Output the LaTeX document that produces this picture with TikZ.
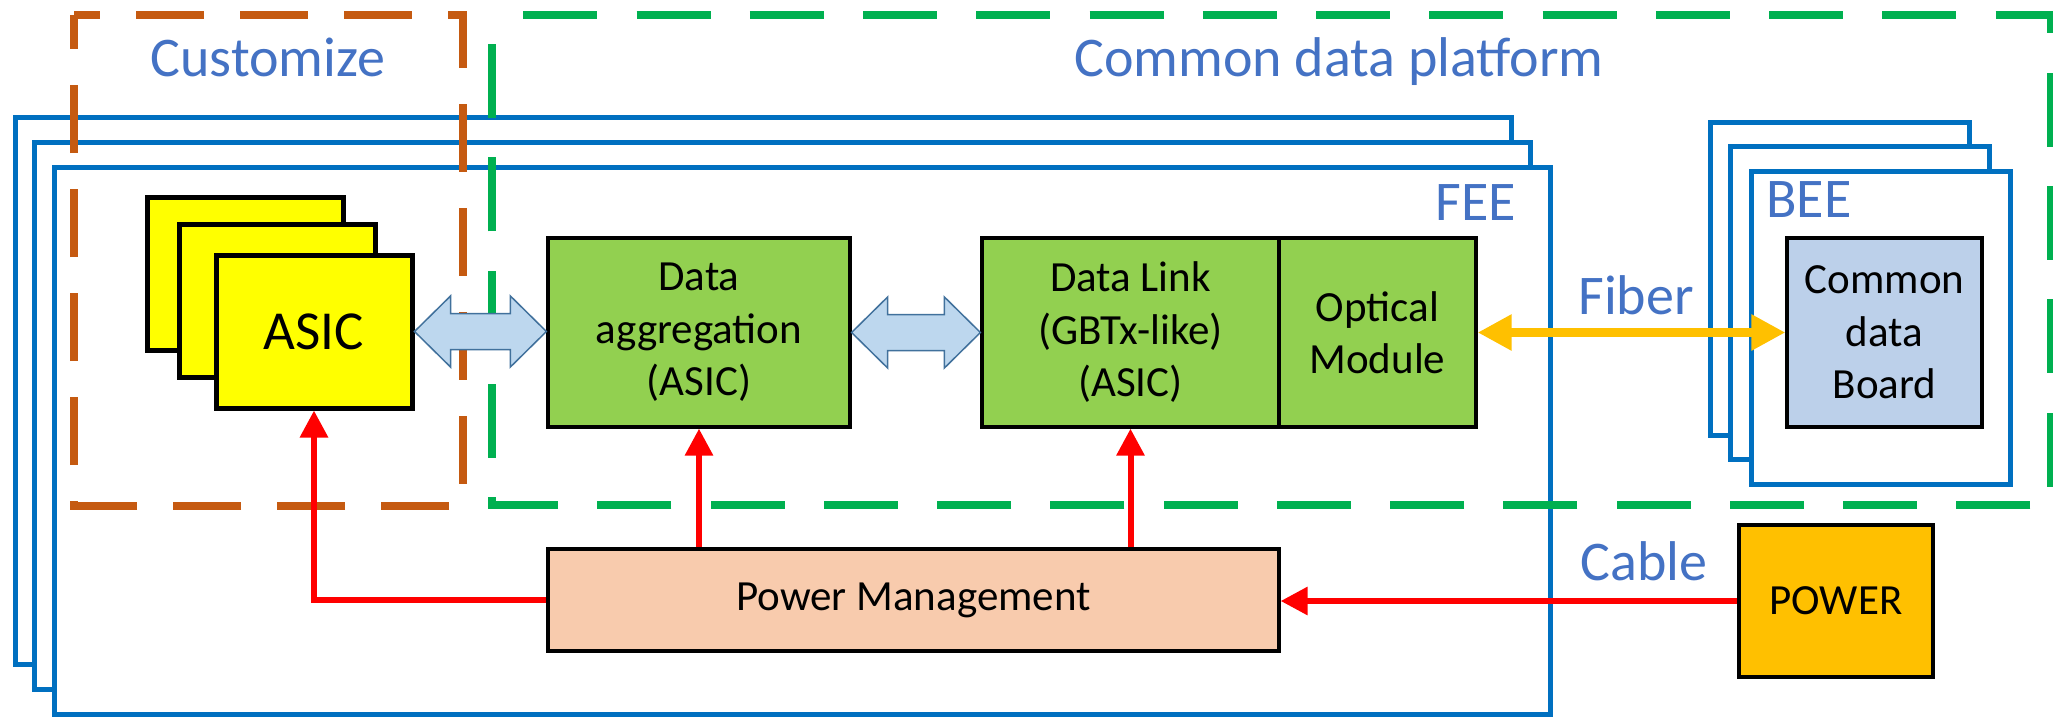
\documentclass[tikz,border=0pt]{standalone}
\usepackage{fontspec}
\setmainfont{Carlito}
\usetikzlibrary{arrows.meta,calc}

\definecolor{feeblue}{HTML}{0070C0}
\definecolor{labelblue}{HTML}{4472C4}
\definecolor{custorange}{HTML}{C55A11}
\definecolor{platgreen}{HTML}{00B050}
\definecolor{chipyellow}{HTML}{FFFF00}
\definecolor{blockgreen}{HTML}{92D050}
\definecolor{pmpeach}{HTML}{F8CBAD}
\definecolor{boardblue}{HTML}{BCD0EA}
\definecolor{powerorange}{HTML}{FFC000}
\definecolor{arrowfill}{HTML}{BDD7EE}
\definecolor{arrowedge}{HTML}{41719C}
\definecolor{powerred}{HTML}{FF0000}

\tikzset{
  panel/.style={draw=feeblue, line width=5pt, fill=white, inner sep=0pt,
    minimum width=1496pt, minimum height=547.5pt},
  beepanel/.style={draw=feeblue, line width=5pt, fill=white, inner sep=0pt,
    minimum width=259pt, minimum height=313pt},
  chip/.style={draw=black, line width=5pt, fill=chipyellow, inner sep=0pt,
    minimum width=196pt, minimum height=153pt, font=\fontsize{55}{66}\selectfont},
  block/.style={draw=black, line width=3.2pt, inner sep=0pt, align=center,
    font=\fontsize{43}{52.5}\selectfont},
  tag/.style={text=labelblue, inner sep=0pt, font=\fontsize{56}{67}\selectfont},
  zone/.style={line width=7.5pt},
  power/.style={draw=powerred, line width=6pt, -{Triangle[length=27pt,width=27pt]}},
  fiber/.style={draw=powerorange, line width=8.5pt,
    {Triangle[length=34pt,width=34pt]}-{Triangle[length=34pt,width=34pt]}},
  fat/.style={draw=arrowedge, line width=1.5pt, fill=arrowfill, line join=miter},
}

% wide two-headed block arrow between the east side of #1 and the west side of #2
\newcommand\fatlink[2]{%
  \draw[fat] let \p1=(#1), \p2=(#2) in
    (\x1,\y1) -- (\x1+36pt,\y1+35.5pt) -- (\x1+36pt,\y1+18pt)
    -- (\x2-36pt,\y1+18pt) -- (\x2-36pt,\y1+35.5pt) -- (\x2,\y1)
    -- (\x2-36pt,\y1-35.5pt) -- (\x2-36pt,\y1-18pt)
    -- (\x1+36pt,\y1-18pt) -- (\x1+36pt,\y1-35.5pt) -- cycle;}

\begin{document}
\begin{tikzpicture}[x=1pt,y=-1pt]
\useasboundingbox[fill=white] (0,0) rectangle (2053,717);

% stacked front-end boards
\node[panel] (fee1) at (763,390.75) {};
\node[panel] (fee2) at (782.5,415.75) {};
\node[panel] (fee3) at (802,440.75) {};

% stacked back-end boards
\node[beepanel] (bee1) at (1839.5,278.5) {};
\node[beepanel] (bee2) at (1860,303) {};
\node[beepanel] (bee3) at (1880.5,327.5) {};

% customised and common regions
\draw[zone, custorange, dash pattern=on 68pt off 36pt, dash phase=42pt]
  (74,15) -- (463,15) -- (463,506) -- (74,506) -- cycle;
\draw[zone, platgreen, dash pattern=on 74pt off 39.25pt, dash phase=82pt]
  (492,15) -- (2051,15) -- (2051,505) -- (492,505) -- cycle;

% region and board labels
\node[tag, anchor=base] (custlbl) at (268,76.5) {Customize};
\node[tag, anchor=base] (cdplbl) at (1339,77) {Common data platform};
\node[tag, anchor=base east] (feelbl) at (1516,220) {FEE};
\node[tag, anchor=base west] (beelbl) at (1766,217) {BEE};
\node[tag, anchor=base] (fiberlbl) at (1636,314.5) {Fiber};
\node[tag, anchor=base] (cablelbl) at (1644,580) {Cable};

% front-end chips
\node[chip] (a1) at (245.5,274) {};
\node[chip] (a2) at (277,301) {};
\node[chip] (a3) at (314,331.5) {ASIC};

% processing blocks
\node[block, fill=blockgreen, minimum width=302pt, minimum height=189pt]
  (agg) at (699,332.5) {Data\\aggregation\\(ASIC)};
\node[block, fill=blockgreen, minimum width=297pt, minimum height=189pt]
  (link) at (1130.5,332.5) {Data Link\\(GBTx-like)\\(ASIC)};
\node[block, fill=blockgreen, minimum width=197pt, minimum height=189pt]
  (opt) at (1377.5,332.5) {Optical\\Module};
\node[block, fill=boardblue, minimum width=195pt, minimum height=189pt]
  (cdb) at (1884.5,332.5) {Common\\data\\Board};
\node[block, fill=pmpeach, minimum width=731pt, minimum height=102pt]
  (pm) at (913.5,600) {Power Management};
\node[block, fill=powerorange, minimum width=194pt, minimum height=152pt]
  (pw) at (1836,601) {POWER};

% data paths
\fatlink{a3.east}{agg.west}
\fatlink{agg.east}{link.west}
\draw[fiber] (opt.east) -- (cdb.west);

% power distribution
\draw[power] (pm.west) -| (a3.south);
\draw[power] (agg.south |- pm.north) -- (agg.south);
\draw[power] (link.south |- pm.north) -- (link.south);
\draw[power] (pw.west) -- (pw.west -| pm.east);
\end{tikzpicture}
\end{document}
